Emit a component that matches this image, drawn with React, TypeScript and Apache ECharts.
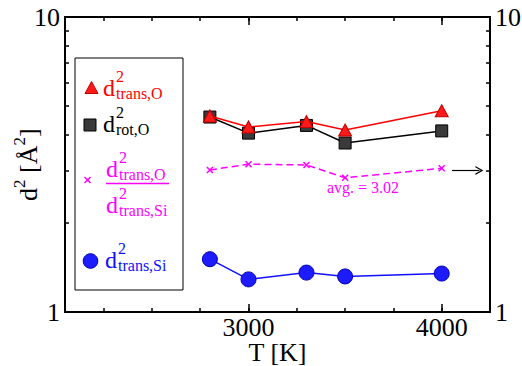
import React, { useEffect, useRef } from "react";
import * as echarts from "echarts";

// Temperatures (K) of the runs
const temperatures = [2800, 3000, 3300, 3500, 4000];
// Mean squared displacements (Å^2)
const dTransO = [4.62, 4.24, 4.42, 4.14, 4.81];
const dRotO = [4.58, 4.04, 4.29, 3.74, 4.11];
const ratioOSi = [3.03, 3.17, 3.15, 2.85, 3.07];
const dTransSi = [1.51, 1.29, 1.36, 1.32, 1.35];
const ratioAvg = 3.02;

// Axis ranges and ticks
const xRange = [2050, 4250];
const xMinorTicks = [2250, 2500, 2750, 3000, 3250, 3500, 3750, 4000];
const xMajorTicks = [3000, 4000];
const yRange = [1, 10];
const yMinorTicks = [2, 3, 4, 5, 6, 7, 8, 9];
const yLabels = [1, 10];

const SERIF = "Liberation Serif";
const RED = "#ff0000";
const BLACK = "#000000";
const MAGENTA = "#ff00ff";
const BLUE = "#1010ff";
const AXIS_FONT = 26;

const pairs = (ys: number[]) => temperatures.map((t, i) => [t, ys[i]]);
const plain = (v: number) => String(v);

// y of the "middle" anchor for a text whose alphabetic baseline sits at `base`
const mid = (fs: number, base: number) => base - 0.3375 * fs;

function txt(x: number, y: number, text: string, fs: number, color: string, align = "left") {
  return {
    type: "text",
    x,
    y,
    z: 110,
    silent: true,
    style: { text, fontSize: fs, fontFamily: SERIF, fill: color, align, verticalAlign: "middle" },
  };
}

// d^2 with a subscript, baseline of the "d" at `base`
function dSquared(x: number, base: number, sub: string, color: string) {
  return [
    txt(x, mid(24, base), "d", 24, color),
    txt(x + 13, mid(16, base - 14), "2", 16, color),
    txt(x + 13, mid(16, base + 3), sub, 16, color),
  ];
}

function makeXAxis(position: "top" | "bottom", ticks: number[], len: number, labels: boolean) {
  return {
    type: "value",
    min: xRange[0],
    max: xRange[1],
    position,
    splitLine: { show: false },
    axisLine: { show: true, onZero: false, lineStyle: { color: BLACK, width: 2 } },
    axisTick: { show: true, inside: true, length: len, customValues: ticks, lineStyle: { color: BLACK, width: 1.5 } },
    axisLabel: labels
      ? {
          show: true,
          customValues: xMajorTicks,
          formatter: plain,
          margin: 3,
          lineHeight: 24,
          fontSize: AXIS_FONT,
          fontFamily: SERIF,
          color: BLACK,
        }
      : { show: false },
  };
}

function makeYAxis(position: "left" | "right") {
  return {
    type: "log",
    logBase: 10,
    min: yRange[0],
    max: yRange[1],
    position,
    splitLine: { show: false },
    minorTick: { show: false },
    axisLine: { show: true, onZero: false, lineStyle: { color: BLACK, width: 2 } },
    axisTick: { show: true, inside: true, length: 4, customValues: yMinorTicks, lineStyle: { color: BLACK, width: 1.5 } },
    axisLabel: { show: true, customValues: yLabels, formatter: plain, margin: 5, fontSize: AXIS_FONT, fontFamily: SERIF, color: BLACK },
  };
}

export default function App() {
  const ref = useRef<HTMLDivElement>(null);

  useEffect(() => {
    if (!ref.current) return;
    const chart = echarts.init(ref.current, undefined, { renderer: "svg" });

    const bottomMajor: any = makeXAxis("bottom", xMajorTicks, 8, true);
    bottomMajor.name = "T [K]";
    bottomMajor.nameLocation = "middle";
    bottomMajor.nameGap = 28;
    bottomMajor.nameMoveOverlap = false;
    bottomMajor.nameTextStyle = { fontSize: AXIS_FONT, lineHeight: 24, fontFamily: SERIF, color: BLACK };

    // vertical axis title d^2 [Å^2], reading upwards from its start point
    const yTitle = {
      type: "text",
      x: 28,
      y: 201,
      rotation: Math.PI / 2,
      z: 110,
      silent: true,
      style: {
        text: "{d|d}{s|2}{d| [Å}{s|2}{d|]}",
        align: "left",
        verticalAlign: "middle",
        fill: BLACK,
        fontFamily: SERIF,
        fontSize: AXIS_FONT,
        rich: {
          d: { fontSize: AXIS_FONT, fontFamily: SERIF, fill: BLACK, lineHeight: 34, verticalAlign: "middle" },
          s: { fontSize: 17, fontFamily: SERIF, fill: BLACK, lineHeight: 17, verticalAlign: "top" },
        },
      },
    };

    const legend = [
      {
        type: "rect",
        z: 100,
        silent: true,
        shape: { x: 75, y: 58, width: 108, height: 232 },
        style: { fill: "#ffffff", stroke: BLACK, lineWidth: 1 },
      },
      // d^2 trans,O
      {
        type: "polygon",
        z: 105,
        silent: true,
        shape: { points: [[85, 93.5], [91.5, 81.5], [98, 93.5]] },
        style: { fill: "#ff1a1a", stroke: "#c00000", lineWidth: 1 },
      },
      ...dSquared(103, 96, "trans,O", RED),
      // d^2 rot,O
      {
        type: "rect",
        z: 105,
        silent: true,
        shape: { x: 84, y: 119, width: 12, height: 12 },
        style: { fill: "#3a3a3a", stroke: BLACK, lineWidth: 1 },
      },
      ...dSquared(103, 132, "rot,O", BLACK),
      // ratio d^2 trans,O / d^2 trans,Si
      {
        type: "line",
        z: 105,
        silent: true,
        shape: { x1: 84.5, y1: 177, x2: 90.5, y2: 183 },
        style: { stroke: MAGENTA, lineWidth: 1.5 },
      },
      {
        type: "line",
        z: 105,
        silent: true,
        shape: { x1: 90.5, y1: 177, x2: 84.5, y2: 183 },
        style: { stroke: MAGENTA, lineWidth: 1.5 },
      },
      ...dSquared(106, 177, "trans,O", MAGENTA),
      {
        type: "line",
        z: 105,
        silent: true,
        shape: { x1: 106, y1: 183.5, x2: 169, y2: 183.5 },
        style: { stroke: MAGENTA, lineWidth: 1.5 },
      },
      ...dSquared(106, 213, "trans,Si", MAGENTA),
      // d^2 trans,Si
      {
        type: "circle",
        z: 105,
        silent: true,
        shape: { cx: 90.5, cy: 261, r: 7.3 },
        style: { fill: "#1c1cff", stroke: "#0000b0", lineWidth: 1 },
      },
      ...dSquared(105, 268, "trans,Si", BLUE),
      // average of the ratio
      txt(363, 187, `avg. = ${ratioAvg.toFixed(2)}`, 16, MAGENTA, "center"),
      yTitle,
    ];

    chart.setOption({
      animation: false,
      backgroundColor: "#ffffff",
      grid: { left: 65, right: 32, top: 17, bottom: 54, containLabel: false, outerBoundsMode: "none" },
      xAxis: [
        makeXAxis("bottom", xMinorTicks, 4, false),
        bottomMajor,
        makeXAxis("top", xMinorTicks, 4, false),
        makeXAxis("top", xMajorTicks, 8, false),
      ],
      yAxis: [makeYAxis("left"), makeYAxis("right")],
      series: [
        {
          name: "d2 rot,O",
          type: "line",
          data: pairs(dRotO),
          symbol: "rect",
          symbolSize: 12,
          itemStyle: { color: "#3a3a3a", borderColor: BLACK, borderWidth: 1 },
          lineStyle: { color: BLACK, width: 1.5 },
          z: 2,
        },
        {
          name: "d2 trans,O",
          type: "line",
          data: pairs(dTransO),
          symbol: "triangle",
          symbolSize: [13, 12],
          itemStyle: { color: "#ff1a1a", borderColor: "#c00000", borderWidth: 1 },
          lineStyle: { color: RED, width: 1.5 },
          z: 3,
        },
        {
          name: "ratio",
          type: "line",
          data: pairs(ratioOSi),
          symbol: "path://M0,0L10,10M10,0L0,10",
          symbolSize: 6,
          itemStyle: { color: "rgba(0,0,0,0)", borderColor: MAGENTA, borderWidth: 1.5 },
          lineStyle: { color: MAGENTA, width: 1.5, type: [7, 4] },
          z: 3,
          markLine: {
            silent: true,
            symbol: ["none", "path://M0,10L5,0L10,10L8.4,10L5,3.2L1.6,10Z"],
            symbolSize: [9, 8],
            label: { show: false },
            lineStyle: { color: BLACK, width: 1.2, type: "solid" },
            data: [[{ coord: [4053, ratioAvg] }, { coord: [4195, ratioAvg] }]],
          },
        },
        {
          name: "d2 trans,Si",
          type: "line",
          data: pairs(dTransSi),
          symbol: "circle",
          symbolSize: 15,
          itemStyle: { color: "#1c1cff", borderColor: "#0000b0", borderWidth: 1 },
          lineStyle: { color: BLUE, width: 1.5 },
          z: 3,
        },
      ],
      graphic: legend,
    });

    return () => chart.dispose();
  }, []);

  return (
    <div
      ref={ref}
      style={{ position: "fixed", left: 0, top: 0, width: 522, height: 366, background: "#ffffff" }}
    />
  );
}
